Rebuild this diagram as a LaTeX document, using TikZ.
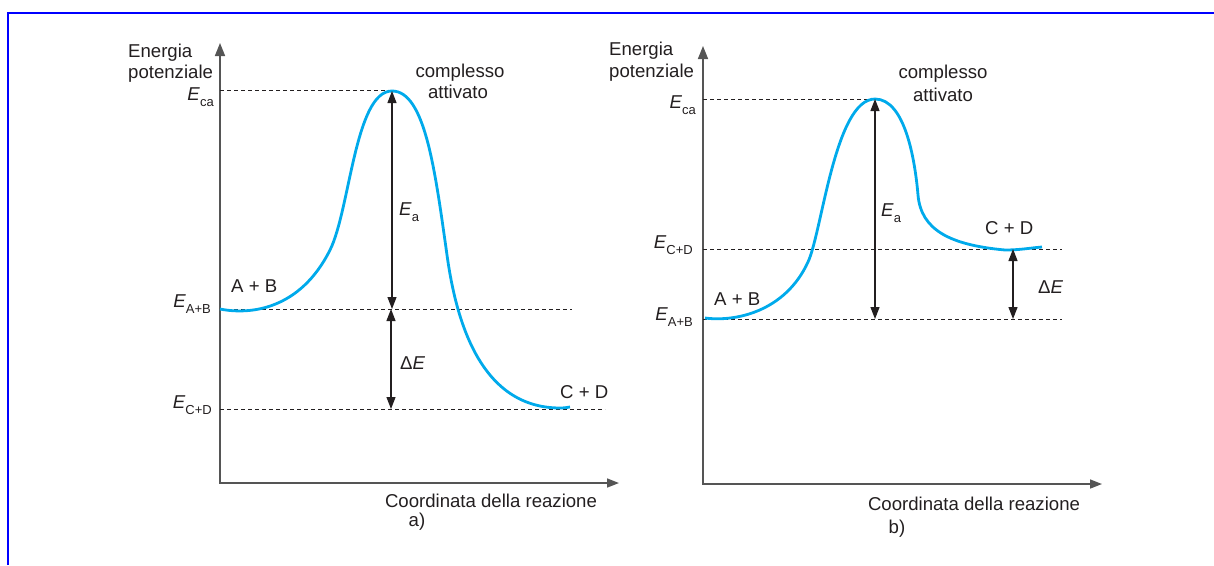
\documentclass[tikz,border=0pt]{standalone}
\usepackage{fontspec}
\setmainfont{Liberation Sans}
\usetikzlibrary{arrows.meta}
\definecolor{curvecol}{RGB}{0,170,235}
\definecolor{axiscol}{RGB}{85,85,85}
\definecolor{inkcol}{RGB}{35,31,32}
\definecolor{framecol}{RGB}{0,0,255}
\newcommand{\Elab}[1]{\textit{E}\raisebox{-6pt}{\fontsize{13}{13}\selectfont #1}}
\begin{document}
\begin{tikzpicture}[x=1pt,y=-1pt,
  txt/.style={inner sep=0pt, font=\fontsize{18.6}{22}\selectfont, text=inkcol},
  axisline/.style={draw=axiscol, line width=1.6pt,
    {Triangle[length=13pt,width=10pt]}-{Triangle[length=12pt,width=9pt]}},
  dimarrow/.style={draw=inkcol, line width=1.2pt,
    {Triangle[length=12pt,width=9pt]}-{Triangle[length=12pt,width=9pt]}},
  level/.style={draw=inkcol, line width=1pt, dash pattern=on 4pt off 3pt},
  curve/.style={draw=curvecol, line width=2.8pt},
  frame/.style={draw=framecol, line width=2pt}]
\useasboundingbox (0,0) rectangle (1214,565);
% frame
\coordinate (fB) at (7.5,565);
\coordinate (fC) at (7.5,12.5);
\coordinate (fR) at (1214,12.5);
\draw[frame] (fB) -- (fC) -- (fR);

% ================= a) =================
\coordinate (aY) at (220,43);
\coordinate (aO) at (220,483);
\coordinate (aX) at (619,483);
\draw[axisline] (aY) -- (aO) -- (aX);
\node[txt, anchor=base west] (aEn) at (128,57) {Energia};
\node[txt, anchor=base west] (aPo) at (128,78) {potenziale};
\node[txt, anchor=base] (aCo) at (491,507) {Coordinata della reazione};
\node[txt, anchor=base] (aLab) at (417,526) {a)};

% levels
\coordinate (aCa0) at (220,90);   \coordinate (aCa1) at (392,90);
\coordinate (aAB0) at (220,309);  \coordinate (aAB1) at (572,309);
\coordinate (aCD0) at (220,409);  \coordinate (aCD1) at (605,409);
\draw[level] (aCa0) -- (aCa1);
\draw[level] (aAB0) -- (aAB1);
\draw[level] (aCD0) -- (aCD1);
\node[txt, anchor=base east] (aECa) at (214,100) {\Elab{ca}};
\node[txt, anchor=base east] (aEAB) at (211,307) {\Elab{A+B}};
\node[txt, anchor=base east] (aECD) at (212,408) {\Elab{C+D}};

% curve
\draw[curve] (220,309) .. controls (250,315) and (300,310) .. (330,250)
  .. controls (350,210) and (355,91) .. (392,91)
  .. controls (425,91) and (435,170) .. (447,255)
  .. controls (456,320) and (480,408) .. (560,408)
  .. controls (564,408) and (567,407.5) .. (570,407);

% arrows
\coordinate (aPk) at (392,91);
\coordinate (aMid) at (392,309);
\coordinate (aMid2) at (391,309);
\coordinate (aBot) at (391,409);
\draw[dimarrow] (aPk) -- (aMid);
\draw[dimarrow] (aMid2) -- (aBot);
\node[txt, anchor=base west] (aEa) at (399,215) {\Elab{a}};
\node[txt, anchor=base west] (aDE) at (400,369) {Δ\textit{E}};

\node[txt, anchor=base west] (aAB) at (231,292) {A + B};
\node[txt, anchor=base west] (aCD) at (560,398) {C + D};
\node[txt, anchor=base] (aCom) at (460,77) {complesso};
\node[txt, anchor=base] (aAtt) at (458,98) {attivato};

% ================= b) =================
\coordinate (bY) at (703,46);
\coordinate (bO) at (703,484);
\coordinate (bX) at (1102,484);
\draw[axisline] (bY) -- (bO) -- (bX);
\node[txt, anchor=base west] (bEn) at (609,55) {Energia};
\node[txt, anchor=base west] (bPo) at (609,77) {potenziale};
\node[txt, anchor=base] (bCo) at (974,510) {Coordinata della reazione};
\node[txt, anchor=base] (bLab) at (897,533) {b)};

\coordinate (bCa0) at (703,99);   \coordinate (bCa1) at (875,99);
\coordinate (bCD0) at (703,249);  \coordinate (bCD1) at (1062,249);
\coordinate (bAB0) at (703,319);  \coordinate (bAB1) at (1062,319);
\draw[level] (bCa0) -- (bCa1);
\draw[level] (bCD0) -- (bCD1);
\draw[level] (bAB0) -- (bAB1);
\node[txt, anchor=base east] (bECa) at (696,108) {\Elab{ca}};
\node[txt, anchor=base east] (bECD) at (693,248) {\Elab{C+D}};
\node[txt, anchor=base east] (bEAB) at (693,320) {\Elab{A+B}};

\draw[curve] (705,318) .. controls (735,322) and (785,312) .. (808,262)
  .. controls (822,232) and (835,99) .. (875,99)
  .. controls (905,99) and (915,160) .. (918,195)
  .. controls (921,230) and (950,245) .. (1005,250)
  .. controls (1020,250) and (1030,248) .. (1042,247);

\coordinate (bPk) at (875,99);
\coordinate (bLo) at (875,319);
\coordinate (bDT) at (1013,249);
\coordinate (bDB) at (1013,319);
\draw[dimarrow] (bPk) -- (bLo);
\draw[dimarrow] (bDT) -- (bDB);
\node[txt, anchor=base west] (bEa) at (881,216) {\Elab{a}};
\node[txt, anchor=base west] (bDE) at (1038,293) {Δ\textit{E}};

\node[txt, anchor=base west] (bAB) at (714,305) {A + B};
\node[txt, anchor=base west] (bCD) at (985,234) {C + D};
\node[txt, anchor=base] (bCom) at (943,78) {complesso};
\node[txt, anchor=base] (bAtt) at (943,101) {attivato};
\end{tikzpicture}
\end{document}
